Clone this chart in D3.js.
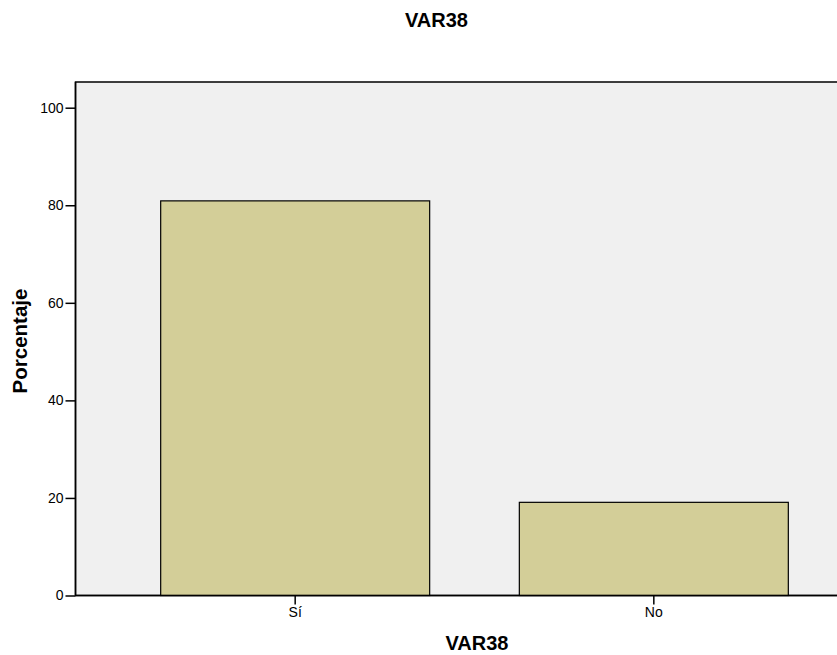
<!DOCTYPE html>
<html><head><meta charset="utf-8">
<script src="https://cdn.jsdelivr.net/npm/d3@7"></script>
<style>html,body{margin:0;padding:0;background:#fff;overflow:hidden}</style>
</head><body>
<script>
const title = "VAR38";
const xTitle = "VAR38";
const yTitle = "Porcentaje";
const categories = ["Sí", "No"];
const values = [80.9, 19.1];
const yTicks = [0, 20, 40, 60, 80, 100];

(function () {
const W = 837, H = 655;
const pL = 75.5, pR = 873.5, pT = 82, pB = 595.5;
const svg = d3.select("body").append("svg").attr("width", W).attr("height", H)
  .style("font-family", "Arial, 'Liberation Sans', sans-serif");

const x = d3.scaleBand().domain(categories).range([pL, pR]).paddingInner(0.25).paddingOuter(0.2375);
const y = d3.scaleLinear().domain([0, 100]).range([pB, 107.7]);

svg.append("rect").attr("x", pL).attr("y", pT).attr("width", pR - pL).attr("height", pB - pT)
  .attr("fill", "#f0f0f0").attr("stroke", "#000").attr("stroke-width", 1.5);

svg.selectAll("rect.bar").data(values).join("rect").attr("class", "bar")
  .attr("x", (d, i) => x(categories[i])).attr("width", x.bandwidth())
  .attr("y", d => y(d)).attr("height", d => y(0) - y(d))
  .attr("fill", "#d3ce98").attr("stroke", "#000").attr("stroke-width", 1.2);

svg.append("line").attr("x1", pL).attr("x2", pR).attr("y1", pB).attr("y2", pB).attr("stroke", "#000").attr("stroke-width", 1.5);
svg.append("line").attr("x1", pL).attr("x2", pL).attr("y1", pT).attr("y2", pB).attr("stroke", "#000").attr("stroke-width", 1.5);

const yAxis = svg.append("g").attr("transform", `translate(${pL},0)`)
  .call(d3.axisLeft(y).tickValues(yTicks).tickSize(10).tickPadding(2).tickFormat(d3.format("d")));
yAxis.select(".domain").remove();
yAxis.selectAll("line").attr("stroke", "#000").attr("stroke-width", 1.5);
yAxis.selectAll("text").attr("font-size", 14).attr("fill", "#000").style("font-family", "Arial, 'Liberation Sans', sans-serif");

const xAxis = svg.append("g").attr("transform", `translate(0,${pB})`)
  .call(d3.axisBottom(x).tickSize(9).tickPadding(3));
xAxis.select(".domain").remove();
xAxis.selectAll("line").attr("stroke", "#000").attr("stroke-width", 1.5);
xAxis.selectAll("text").attr("font-size", 14).attr("fill", "#000").style("font-family", "Arial, 'Liberation Sans', sans-serif");

svg.append("text").attr("x", 436.5).attr("y", 27).attr("text-anchor", "middle")
  .attr("font-size", 20).attr("font-weight", "bold").text(title);
svg.append("text").attr("x", 477).attr("y", 650).attr("text-anchor", "middle")
  .attr("font-size", 20).attr("font-weight", "bold").text(xTitle);
svg.append("text").attr("transform", "translate(27,341) rotate(-90)").attr("text-anchor", "middle")
  .attr("font-size", 20.5).attr("font-weight", "bold").text(yTitle);
})();
</script>
</body></html>
